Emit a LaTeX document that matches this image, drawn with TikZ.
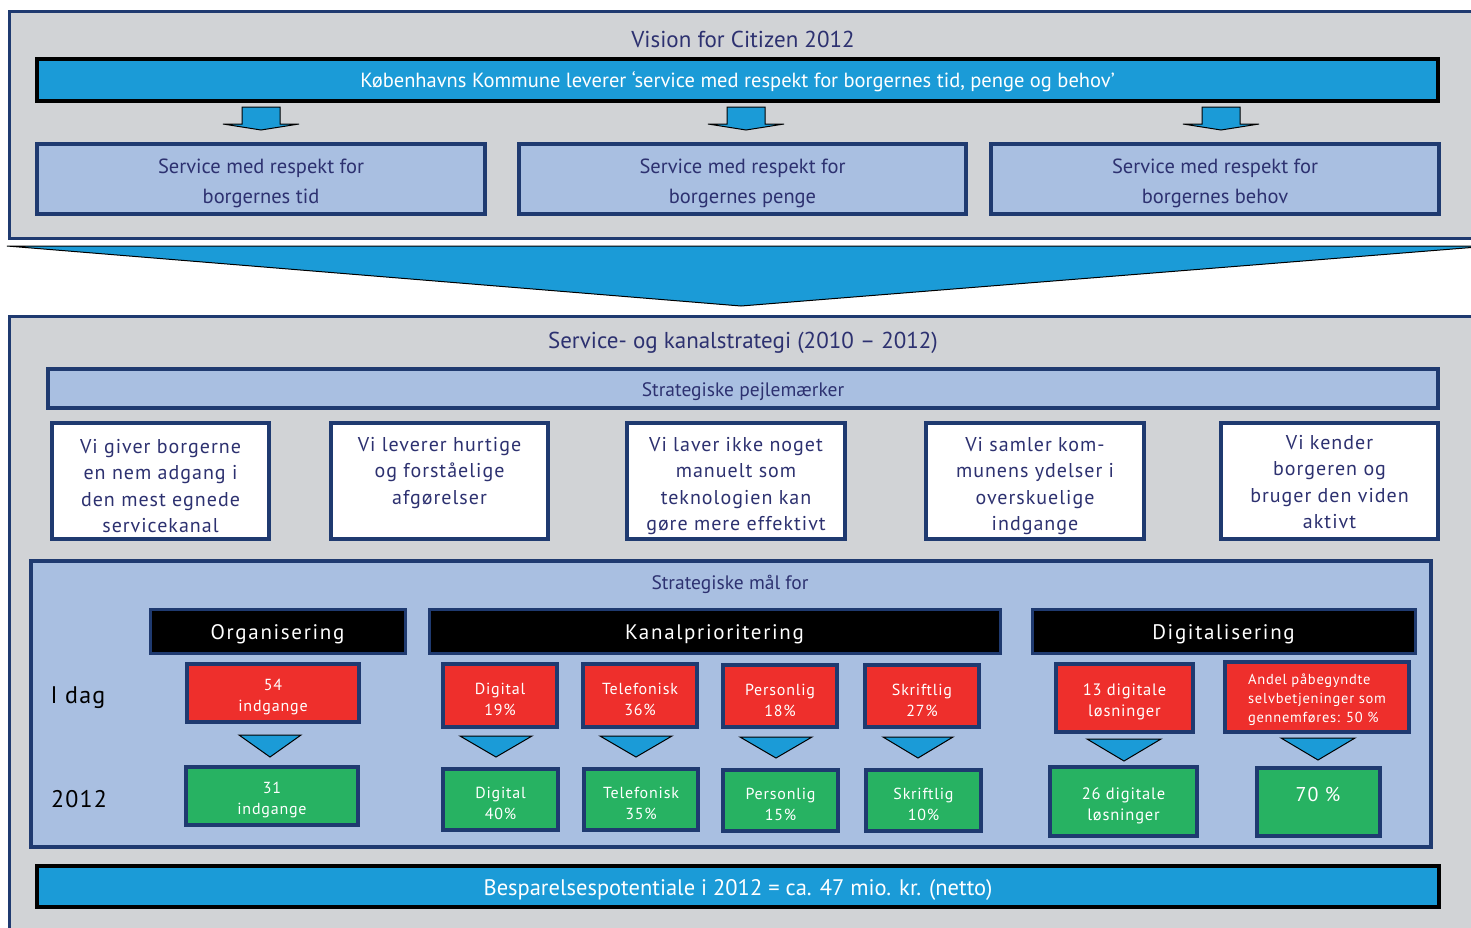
\documentclass[tikz,border=0pt]{standalone}
\usepackage{fontspec}
\setmainfont{PT Sans}
\newfontfamily\ls[LetterSpace=5]{PT Sans}
\newfontfamily\lsb[LetterSpace=8]{PT Sans}
\usetikzlibrary{calc}
\definecolor{navy}{HTML}{1F3A70}
\definecolor{grayfill}{HTML}{D1D3D6}
\definecolor{lb}{HTML}{A9BFE1}
\definecolor{cy}{HTML}{1B9BD7}
\definecolor{rd}{HTML}{EE2F2C}
\definecolor{gr}{HTML}{27B262}
\definecolor{txt}{HTML}{2D3170}
\tikzset{
  outerbox/.style={draw=navy, line width=3pt, fill=grayfill},
  lbbox/.style={draw=navy, line width=4pt, fill=lb, text=txt, align=center, inner sep=0pt},
  whitebox/.style={draw=navy, line width=4pt, fill=white, text=txt, align=center, inner sep=0pt},
  hdr/.style={draw=navy, line width=3pt, fill=black, text=white, align=center, inner sep=0pt},
  redbox/.style={draw=navy, line width=4pt, fill=rd, text=white, align=center, inner sep=0pt},
  greenbox/.style={draw=navy, line width=4pt, fill=gr, text=white, align=center, inner sep=0pt},
  bar/.style={draw=black, line width=4pt, fill=cy, text=white, align=center, inner sep=0pt},
  tri/.style={draw=black, line width=1pt, fill=cy, line join=miter},
  blockarrow/.style={draw=black, line width=1pt, fill=cy},
  title/.style={text=txt, inner sep=0pt},
  tshift/.style={yshift=-4pt},
  textonly/.style={draw=none, fill=none, minimum width=0pt, minimum height=0pt}
}
% \bx{name}{style}{x1}{y1}{x2}{y2}{text}
\newcommand\bx[7]{%
  \node[#2, minimum width={#5-#3-4}, minimum height={#6-#4-4}] (#1) at ({(#3+#5)/2},{(#4+#6)/2}) {};
  \node[#2, textonly, tshift] (#1-t) at (#1.center) {#7};}
\newcommand\smallarrow[1]{\draw[blockarrow] ({#1-19},107) -- ({#1+19},107) -- ({#1+19},124) -- ({#1+38},124) -- (#1,130) -- ({#1-38},124) -- ({#1-19},124) -- cycle;}
\newcommand\tridown[4]{\draw[tri] ({#1-#2},#3) -- ({#1+#2},#3) -- (#1,#4) -- cycle;}
\begin{document}
\begin{tikzpicture}[x=1pt,y=-1pt]
\useasboundingbox (0,0) rectangle (1471,927);
\clip (0,0) rectangle (1471,927);
\fill[white] (0,0) rectangle (1471,927);
% top section
\draw[outerbox] (9,11) rectangle (1490,238);
\node[title, font=\fontsize{23}{26}\selectfont] (vision) at (743,39) {Vision for Citizen 2012};
\bx{kk}{bar, font=\fontsize{20.5}{22}\selectfont, tshift/.style={yshift=-2pt}}{35}{57}{1440}{103}{Københavns Kommune leverer ‘service med respekt for borgernes tid, penge og behov’}
\smallarrow{261}
\smallarrow{746}
\smallarrow{1221}
\bx{s1}{lbbox, font=\fontsize{20.5}{30}\selectfont}{35}{142}{487}{216}{Service med respekt for\\borgernes tid}
\bx{s2}{lbbox, font=\fontsize{20.5}{30}\selectfont}{517}{142}{968}{216}{Service med respekt for\\borgernes penge}
\bx{s3}{lbbox, font=\fontsize{20.5}{30}\selectfont}{989}{142}{1441}{216}{Service med respekt for\\borgernes behov}
% funnel
\draw[tri] (7,246) -- (1490,246) -- (741,306) -- cycle;
% lower section
\draw[outerbox] (9,316) rectangle (1490,950);
\node[title, font=\fontsize{23}{26}\selectfont] (strat) at (743,343) {Service- og kanalstrategi (2010 -- 2012)};
\bx{pejl}{lbbox, font=\fontsize{19.5}{22}\selectfont, tshift/.style={yshift=-3pt}}{46}{367}{1440}{410}{Strategiske pejlemærker}
\bx{w1}{whitebox, font=\ls\fontsize{20}{26.3}\selectfont, tshift/.style={yshift=-5pt}}{50}{421}{271}{541}{Vi giver borgerne\\en nem adgang i\\den mest egnede\\servicekanal}
\bx{w2}{whitebox, font=\ls\fontsize{20}{26.3}\selectfont, tshift/.style={yshift=8pt}}{329}{421}{550}{541}{Vi leverer hurtige\\og forståelige\\afgørelser}
\bx{w3}{whitebox, font=\ls\fontsize{20}{26.3}\selectfont, tshift/.style={yshift=-5pt}}{625}{421}{847}{541}{Vi laver ikke noget\\manuelt som\\teknologien kan\\gøre mere effektivt}
\bx{w4}{whitebox, font=\ls\fontsize{20}{26.3}\selectfont, tshift/.style={yshift=-5pt}}{924}{421}{1146}{541}{Vi samler kom-\\munens ydelser i\\overskuelige\\indgange}
\bx{w5}{whitebox, font=\ls\fontsize{20}{26.3}\selectfont, tshift/.style={yshift=-1pt}}{1219}{421}{1440}{541}{Vi kender\\borgeren og\\bruger den viden\\aktivt}
% goals panel
\bx{maal}{lbbox}{29}{559}{1433}{849}{}
\node[title, font=\fontsize{19.5}{22}\selectfont] (maaltitle) at (730,584) {Strategiske mål for};
\bx{h1}{hdr, font=\lsb\fontsize{21}{24}\selectfont, tshift/.style={yshift=-3pt}}{148}{607}{407}{655}{Organisering}
\bx{h2}{hdr, font=\lsb\fontsize{21}{24}\selectfont, tshift/.style={yshift=-3pt}}{427}{607}{1002}{655}{Kanalprioritering}
\bx{h3}{hdr, font=\lsb\fontsize{21}{24}\selectfont, tshift/.style={yshift=-3pt}}{1030}{607}{1417}{655}{Digitalisering}
\node[font=\ls\fontsize{24}{28}\selectfont, inner sep=0pt] (idag) at (78,698) {I dag};
\node[font=\ls\fontsize{24}{28}\selectfont, inner sep=0pt] (y2012) at (79,799) {2012};
% red boxes
\bx{r1}{redbox, font=\ls\fontsize{16}{21}\selectfont}{185}{662}{361}{724}{54\\indgange}
\bx{r2}{redbox, font=\ls\fontsize{16}{21}\selectfont}{441}{662}{559}{729}{Digital\\19\%}
\bx{r3}{redbox, font=\ls\fontsize{16}{21}\selectfont}{581}{662}{699}{729}{Telefonisk\\36\%}
\bx{r4}{redbox, font=\ls\fontsize{16}{21}\selectfont}{721}{663}{839}{729}{Personlig\\18\%}
\bx{r5}{redbox, font=\ls\fontsize{16}{21}\selectfont}{863}{663}{981}{729}{Skriftlig\\27\%}
\bx{r6}{redbox, font=\ls\fontsize{16.5}{21}\selectfont}{1054}{662}{1195}{734}{13 digitale\\løsninger}
\bx{r7}{redbox, font=\ls\fontsize{14.5}{19}\selectfont, align=left, tshift/.style={yshift=-3pt}}{1223}{660}{1411}{734}{Andel påbegyndte\\selvbetjeninger som\\gennemføres: 50 \%}
% triangles
\tridown{270}{31}{735}{757}
\tridown{496}{36}{736}{757}
\tridown{636}{36}{736}{757}
\tridown{776}{36}{737}{758}
\tridown{918}{35}{737}{758}
\tridown{1124}{37}{739}{761}
\tridown{1318}{37}{738}{760}
% green boxes
\bx{g1}{greenbox, font=\ls\fontsize{16}{21}\selectfont}{184}{765}{360}{827}{31\\indgange}
\bx{g2}{greenbox, font=\ls\fontsize{16}{21}\selectfont}{441}{767}{560}{832}{Digital\\40\%}
\bx{g3}{greenbox, font=\ls\fontsize{16}{21}\selectfont}{582}{767}{700}{832}{Telefonisk\\35\%}
\bx{g4}{greenbox, font=\ls\fontsize{16}{21}\selectfont}{721}{768}{840}{833}{Personlig\\15\%}
\bx{g5}{greenbox, font=\ls\fontsize{16}{21}\selectfont}{864}{768}{983}{833}{Skriftlig\\10\%}
\bx{g6}{greenbox, font=\ls\fontsize{16.5}{21}\selectfont}{1048}{765}{1199}{838}{26 digitale\\løsninger}
\bx{g7}{greenbox}{1255}{766}{1382}{838}{}
\node[font=\ls\fontsize{20}{24}\selectfont, text=white, inner sep=0pt] (g7t) at (1318,794) {70 \%};
% bottom bar
\bx{besp}{bar, font=\fontsize{22.5}{24}\selectfont, tshift/.style={yshift=-3pt}}{35}{864}{1441}{909}{Besparelsespotentiale i 2012 = ca. 47 mio. kr. (netto)}
\end{tikzpicture}
\end{document}
